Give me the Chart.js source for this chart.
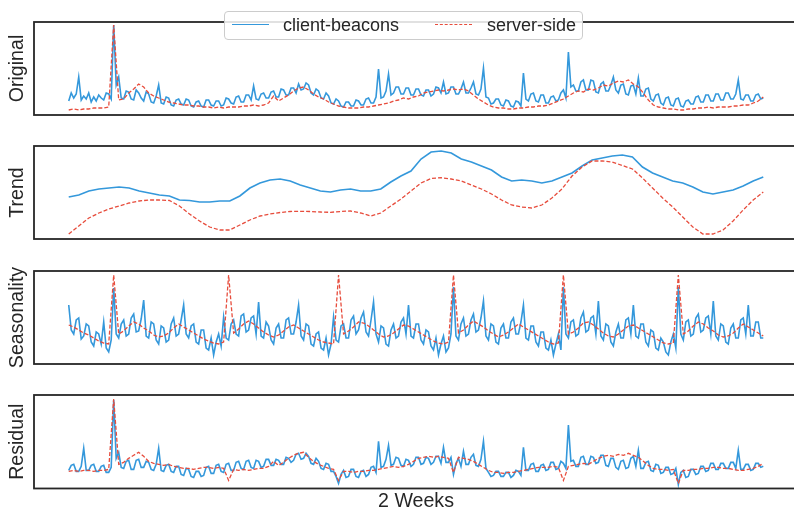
<!DOCTYPE html>
<html>
<head>
<meta charset="utf-8">
<script src="https://cdn.jsdelivr.net/npm/chart.js@4.4.1/dist/chart.umd.min.js"></script>
<style>
  body { margin: 0; background: #fff; }
  #wrap { position: relative; width: 794px; height: 510px; overflow: hidden; background: #fff; }
  #wrap canvas { position: absolute; left: 0; }
  #legend {
    position: absolute; left: 224px; top: 11px; width: 357px; height: 27px;
    border: 1px solid #cccccc; border-radius: 4px; background: rgba(255,255,255,0.85);
    font-family: "Liberation Sans", Arial, sans-serif; font-size: 18px; color: #262626; z-index: 5;
  }
  #legend .sw { position: absolute; top: 12px; width: 37px; height: 0; }
  #legend .lt { position: absolute; top: 2px; line-height: 22px; white-space: nowrap; }
</style>
</head>
<body>
<div id="wrap">
  <canvas id="p0" width="798" height="101" style="top:18px"></canvas>
  <canvas id="p1" width="798" height="101" style="top:142px"></canvas>
  <canvas id="p2" width="798" height="101" style="top:267px"></canvas>
  <canvas id="p3" width="798" height="126" style="top:391px"></canvas>
  <div id="legend"></div>
</div>
<script>
// values (relative units, 0 = bottom of each panel)
const seriesNames = ['client-beacons', 'server-side'];
const panelLabels = ['Original', 'Trend', 'Seasonality', 'Residual'];
const xLabel = '2 Weeks';
const SPAN = 336; // hours in two weeks

const originalClient = [14,22,17,21,38,15,19,16,22,13,18,14,20,17,15,22,21,16,90,30,
  38,17,16,24,23,16,15,25,22,17,14,23,21,13,12,19,30,12,11,18,
  17,10,9,15,16,11,10,16,15,9,8,13,14,9,8,15,15,10,9,14,
  14,9,10,17,16,12,11,18,19,13,13,20,20,15,29,16,15,21,22,17,
  17,23,24,18,18,26,25,20,20,27,27,22,31,25,26,32,30,22,20,26,
  24,17,16,22,19,12,11,16,14,9,8,13,13,9,9,15,14,10,10,16,
  17,12,12,18,46,17,18,24,41,20,22,28,28,21,21,27,27,20,20,26,
  26,20,19,25,25,19,21,28,27,22,33,21,22,28,28,21,21,26,33,22,
  22,27,33,21,20,26,47,18,17,11,12,16,16,10,9,15,14,9,8,14,
  13,9,42,16,14,21,22,14,13,20,20,12,12,18,19,14,15,22,25,17,
  63,28,30,24,24,33,35,25,25,35,34,23,22,31,33,24,24,30,38,25,
  22,30,31,21,20,29,30,21,37,19,19,26,27,16,14,20,21,12,10,17,
  18,10,9,16,17,9,8,14,15,11,11,18,19,13,13,20,20,14,14,21,
  21,15,15,22,22,16,16,21,35,16,15,20,20,14,14,20,21,16,17];
const originalServer = [5,6,5,6,6,7,7,7,8,90,
  15,16,22,26,31,28,22,19,17,15,
  13,12,11,10,10,9,9,8,8,7,
  8,7,8,8,8,9,9,10,9,10,
  12,19,14,17,20,24,27,28,25,21,
  18,16,13,11,9,8,7,7,7,8,
  8,9,10,11,12,14,15,17,16,18,
  19,22,23,24,25,24,25,26,25,26,
  24,20,16,13,10,8,7,7,6,6,
  7,7,8,8,9,9,10,12,14,16,
  19,22,24,23,26,25,27,30,29,32,
  34,33,35,31,28,22,15,10,8,7,
  6,6,5,5,6,6,7,7,8,7,
  8,8,8,9,9,10,10,12,14,18];

const trendClient = [42,44,48,50,51,52,51,48,46,44,
  43,39,38.5,37,37,38,38,43,51,56,
  59,60,58,54,51,48,47,49,50,48,
  48,50,57,63,68,80,87,88,86,80,
  77,73,69,62,58,59,58,56,58,62,
  66,73,79,81,83,84,82,72,66,62,
  58,56,52,47,45,47,49,53,58,62];
const trendServer = [5,13,21,26,30,33,36,38,39,39,
  38.5,33,25,18,12,9,9,14,19,23,
  25,26.5,27.5,27.7,27.5,27,26.7,27.5,28,26,
  23,26,33,40,48,56,60.5,61.3,60,58,
  54,50,45,39,34,32,31,34,41,50,
  63,72,78,78,77,73.5,70,61,51,41,
  32,22,12,5,5,9,18,29,39,47];

const seasonClient = [59,34,30,44,46,25,28,40,38,22,18,32,30,20,42,16,12,24,76,30,
  26,40,44,28,30,46,50,32,33,45,64,28,26,42,40,24,20,38,36,22,
  24,40,46,28,30,44,59,30,26,38,40,22,20,34,34,16,14,26,9,22,
  30,18,47,26,24,40,44,30,28,48,50,32,34,46,48,30,62,28,26,42,
  38,24,20,36,40,26,26,44,46,30,30,42,59,28,24,40,38,20,18,30,
  32,16,14,26,9,20,47,24,22,38,40,26,26,44,48,30,34,46,52,32,
  28,44,62,30,22,38,36,20,18,34,40,26,28,42,46,30,59,28,26,40,
  40,24,20,34,32,18,14,26,9,20,28,12,16,30,77,28,24,40,46,28,
  30,44,50,32,34,46,63,28,24,40,38,22,20,36,40,26,26,42,46,30,
  30,42,59,26,24,38,38,22,18,32,32,16,14,24,9,20,30,14,77,30,
  26,42,44,28,30,46,52,32,34,46,48,30,63,28,24,40,38,22,18,32,
  40,26,26,44,46,30,59,28,26,40,40,22,18,34,32,16,14,26,22,12,
  9,22,30,16,77,30,24,42,44,28,30,46,50,32,34,46,48,30,63,28,
  24,40,38,22,20,36,40,26,26,44,46,30,59,28,28,42,42,26,26];
const seasonServer = [39,37,34,31,29,26,23,21,20,89,
  30,33,38,42,40,36,33,29,27,28,
  31,36,40,37,34,31,28,25,23,21,
  20,22,89,31,35,40,43,40,36,32,
  29,27,29,33,37,39,36,33,30,27,
  24,22,21,20,89,30,33,37,42,41,
  38,34,30,27,28,31,35,39,38,35,
  32,29,26,23,21,20,22,89,31,34,
  39,43,40,37,33,30,27,29,32,36,
  40,37,34,31,28,25,22,20,21,89,
  30,32,36,41,42,39,35,31,28,27,
  30,34,38,39,36,33,30,27,24,21,
  20,21,89,30,33,38,42,40,36,33,
  29,27,28,31,36,40,37,34,31,28];

const residClient = [18,23,24,17,17,22,40,18,18,23,24,17,17,22,23,16,16,21,88,30,
  36,21,20,27,28,19,19,28,29,21,21,27,26,19,18,24,40,18,17,23,
  24,17,16,22,22,14,13,20,19,12,11,17,17,12,13,21,22,15,15,23,
  24,17,16,24,25,18,18,26,27,20,19,27,28,21,20,28,27,21,22,29,
  29,23,23,29,28,24,24,31,30,26,28,34,35,29,30,35,32,25,24,30,
  27,20,19,25,24,17,17,12,5,14,18,11,12,19,19,12,11,17,18,12,
  14,21,22,16,47,21,22,29,43,23,24,31,30,23,22,29,28,22,24,31,
  31,24,25,31,30,24,26,32,32,25,41,26,26,31,14,25,30,22,37,24,
  24,31,34,23,22,29,47,20,16,12,13,17,17,12,12,16,16,11,13,18,
  17,13,41,18,18,24,25,17,17,23,24,18,19,26,26,19,20,27,25,20,
  63,27,28,22,22,31,32,24,24,32,31,25,26,33,33,23,22,30,30,21,
  19,27,28,20,21,30,32,22,38,20,20,26,27,18,17,24,23,15,16,21,
  21,14,15,20,4,16,18,11,12,19,19,14,15,22,22,17,18,25,25,19,
  19,25,25,20,20,26,26,20,38,19,19,24,24,18,19,25,25,21,22];
const residServer = [17,18,17,18,18,17,18,18,19,89,
  24,26,30,33,36,32,27,25,24,23,
  24,22,21,20,20,19,20,21,21,20,
  21,20,8,19,18,19,18,19,20,20,
  22,27,23,26,30,33,35,36,31,27,
  24,22,20,19,8,17,17,16,17,17,
  18,18,19,20,21,22,21,22,24,27,
  30,31,32,31,32,31,30,16,31,30,
  29,27,24,21,18,16,16,15,16,16,
  17,18,19,20,21,21,21,22,21,8,
  22,23,24,25,24,27,30,32,33,32,
  34,33,35,33,31,27,23,20,19,19,
  18,19,5,18,18,19,19,20,20,21,
  21,20,20,19,18,18,19,20,22,25];

const blue = '#3498db';
const red = '#e74c3c';
const ink = '#262626';
const fontFamily = '"Liberation Sans", Arial, sans-serif';

// spread each array evenly over the two weeks
function toPoints(arr) {
  return arr.map((v, i) => ({ x: i * SPAN / (arr.length - 1), y: v }));
}

const frame = {
  id: 'frame',
  afterDatasetsDraw(chart) {
    const { ctx, chartArea: a } = chart;
    ctx.save();
    ctx.strokeStyle = ink;
    ctx.lineWidth = 1.8;
    ctx.strokeRect(a.left, a.top, a.right - a.left, a.bottom - a.top);
    ctx.restore();
  }
};

function makePanel(id, label, client, server, last) {
  return new Chart(document.getElementById(id), {
    type: 'line',
    data: {
      datasets: [
        { label: seriesNames[0], data: toPoints(client), borderColor: blue, borderWidth: 1.6, order: 1 },
        { label: seriesNames[1], data: toPoints(server), borderColor: red, borderWidth: 1.3, borderDash: [4, 2], order: 0 }
      ]
    },
    options: {
      responsive: false,
      animation: false,
      devicePixelRatio: 1,
      layout: { padding: { top: 4, bottom: last ? 0 : 4, left: 0, right: 0 } },
      elements: { point: { radius: 0 }, line: { tension: 0 } },
      plugins: { legend: { display: false }, tooltip: { enabled: false } },
      scales: {
        x: {
          type: 'linear',
          min: -SPAN * 0.05,
          max: SPAN * 1.05,
          display: last,
          grid: { display: false, drawTicks: false },
          border: { display: false },
          ticks: { display: false },
          title: { display: true, text: xLabel, color: ink, font: { family: fontFamily, size: 19.6 }, padding: { top: 1, bottom: 4 } }
        },
        y: {
          min: 0,
          max: 93,
          grid: { display: false, drawTicks: false },
          border: { display: false },
          ticks: { display: false },
          title: { display: true, text: label, color: ink, font: { family: fontFamily, size: 19.6 }, padding: { top: 6, bottom: 0 } },
          afterFit(s) { s.width = 34; }
        }
      }
    },
    plugins: [frame]
  });
}

makePanel('p0', panelLabels[0], originalClient, originalServer, false);
makePanel('p1', panelLabels[1], trendClient, trendServer, false);
makePanel('p2', panelLabels[2], seasonClient, seasonServer, false);
makePanel('p3', panelLabels[3], residClient, residServer, true);

// legend box drawn over the first panel, like the original
const legend = document.getElementById('legend');
const swatchLeft = [7, 210];
const textLeft = [58, 262];
seriesNames.forEach((name, i) => {
  const sw = document.createElement('span');
  sw.className = 'sw';
  sw.style.left = swatchLeft[i] + 'px';
  sw.style.borderTop = i === 0 ? '1.6px solid ' + blue : '1.3px dashed ' + red;
  legend.appendChild(sw);
  const t = document.createElement('span');
  t.className = 'lt';
  t.style.left = textLeft[i] + 'px';
  t.textContent = name;
  legend.appendChild(t);
});
</script>
</body>
</html>
